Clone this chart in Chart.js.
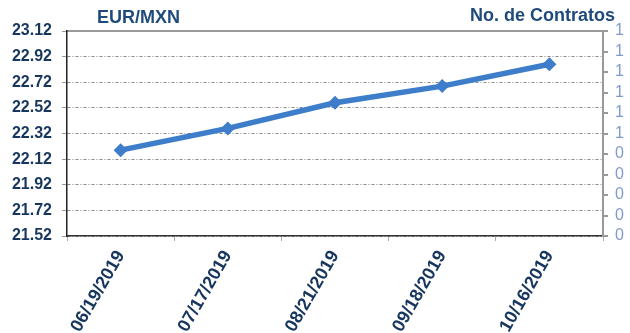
<!DOCTYPE html>
<html>
<head>
<meta charset="utf-8">
<script src="https://cdn.jsdelivr.net/npm/chart.js@4"></script>
<style>
  html, body { margin: 0; padding: 0; background: #fff; }
  #wrap { width: 630px; height: 333px; }
</style>
</head>
<body>
<div id="wrap"><canvas id="chart" width="630" height="333"></canvas></div>
<script>
// Chart data
const dates = ["06/19/2019", "07/17/2019", "08/21/2019", "09/18/2019", "10/16/2019"];
const eurMxn = [22.19, 22.36, 22.56, 22.69, 22.86];
const leftTicks = [21.52, 21.72, 21.92, 22.12, 22.32, 22.52, 22.72, 22.92, 23.12];
const rightTicks = [0, 0.1, 0.2, 0.3, 0.4, 0.5, 0.6, 0.7, 0.8, 0.9, 1];
const rightTickLabels = ["0", "0", "0", "0", "0", "1", "1", "1", "1", "1", "1"];

const FONT = "'Liberation Sans', Arial, sans-serif";
const NAVY = "#17365d";

// titles at the top corners
const titlesPlugin = {
    id: "titles",
    afterDraw(chart) {
        const ctx = chart.ctx;
        ctx.save();
        ctx.font = "bold 18px " + FONT;
        ctx.fillStyle = "#1f4a7c";
        ctx.textBaseline = "alphabetic";
        ctx.textAlign = "left";
        ctx.fillText("EUR/MXN", 97, 23);
        ctx.textAlign = "right";
        ctx.fillText("No. de Contratos", 615, 21);
        ctx.restore();
    },
};

new Chart(document.getElementById("chart"), {
    type: "line",
    data: {
        labels: dates,
        datasets: [
            {
                label: "EUR/MXN",
                data: eurMxn,
                yAxisID: "y",
                borderColor: "#3d7dca",
                backgroundColor: "#3d7dca",
                borderWidth: 5.5,
                tension: 0,
                pointStyle: "rectRot",
                pointRadius: 7,
                pointBorderWidth: 0,
                pointBackgroundColor: "#3d7dca",
            },
        ],
    },
    options: {
        responsive: false,
        animation: false,
        layout: { padding: { top: 31, left: 0, right: 0, bottom: 0 } },
        plugins: { legend: { display: false }, tooltip: { enabled: false } },
        scales: {
            x: {
                offset: true,
                afterFit: (s) => { s.height = 97; },
                grid: { offset: true, drawOnChartArea: false, tickLength: 5, tickColor: "#aaa" },
                border: { color: "#333", width: 1.5 },
                ticks: {
                    minRotation: 60,
                    maxRotation: 60,
                    padding: 6,
                    color: NAVY,
                    font: { family: FONT, size: 18, weight: "bold" },
                },
            },
            y: {
                position: "left",
                min: 21.52,
                max: 23.12,
                afterFit: (s) => { s.width = 67; },
                afterBuildTicks: (s) => { s.ticks = leftTicks.map((v) => ({ value: v })); },
                grid: {
                    color: (c) => (c.tick && c.tick.value > 23.1 ? "transparent" : "#888"),
                    lineWidth: 1,
                    tickLength: 5,
                    tickColor: "#999",
                },
                border: { color: "#222", width: 1.5, dash: [3, 2, 1, 2] },
                ticks: {
                    autoSkip: false,
                    padding: 10,
                    color: NAVY,
                    font: { family: FONT, size: 16, weight: "bold" },
                    callback: (v) => Number(v).toFixed(2),
                },
            },
            y1: {
                position: "right",
                min: 0,
                max: 1,
                afterFit: (s) => { s.width = 27; },
                afterBuildTicks: (s) => { s.ticks = rightTicks.map((v) => ({ value: v })); },
                grid: {
                    drawOnChartArea: true,
                    color: (c) => (c.tick && c.tick.value === 1 ? "#9a9a9a" : "transparent"),
                    lineWidth: 2,
                    tickLength: 5,
                    tickColor: "#999",
                },
                border: { color: "#999", width: 2 },
                ticks: {
                    autoSkip: false,
                    padding: 7,
                    color: "#7f9bcb",
                    font: { family: FONT, size: 16 },
                    callback: (v, i) => rightTickLabels[i],
                },
            },
        },
    },
    plugins: [titlesPlugin],
});
</script>
</body>
</html>
